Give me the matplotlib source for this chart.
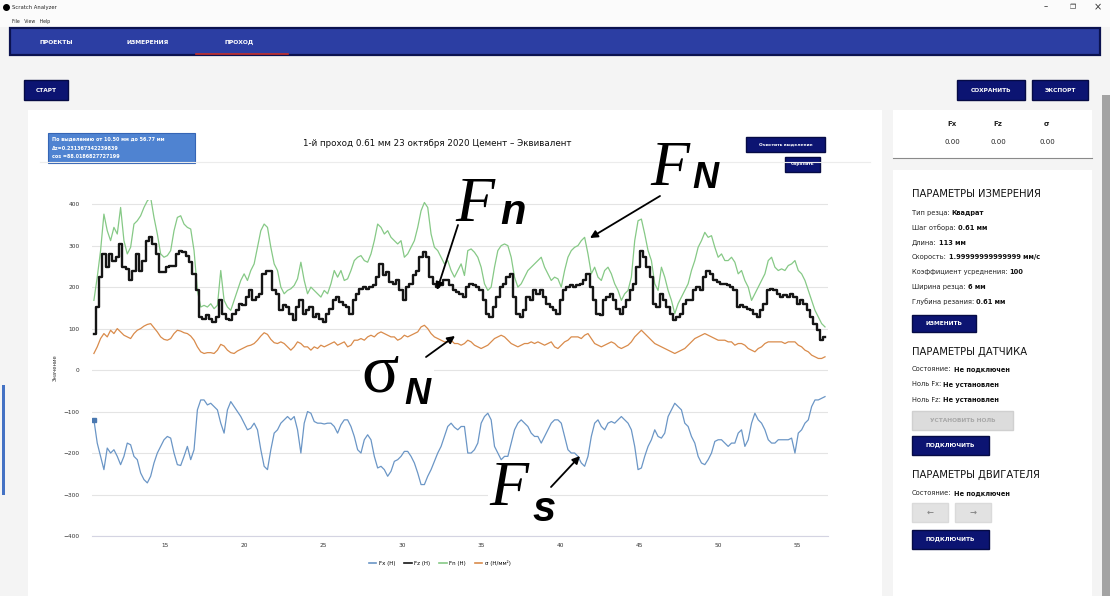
import numpy as np
import matplotlib.pyplot as plt
from matplotlib.patches import Rectangle

# --- values (Н, Н/мм²) ---
fn = [168, 224, 288, 376, 336, 312, 344, 328, 392, 312, 280, 296, 352, 360, 372, 392, 408, 416, 368, 328,
      280, 272, 276, 288, 336, 368, 372, 352, 344, 340, 288, 192, 152, 156, 152, 160, 148, 156, 240, 168,
      152, 144, 168, 192, 216, 232, 216, 240, 256, 296, 336, 352, 344, 296, 256, 240,
      200, 184, 192, 196, 204, 220, 260, 216, 184, 200, 192, 184, 176, 192, 184, 208, 240, 224, 240, 216,
      220, 240, 264, 272, 276, 264, 260, 280, 312, 352, 344, 328, 336, 320, 312, 304, 312, 272, 280, 296,
      312, 344, 384, 404, 392, 328, 296, 288, 272, 256, 264, 240, 224, 240, 256, 228,
      288, 292, 284, 272, 248, 208, 192, 200, 248, 288, 300, 304, 300, 272, 224, 200, 208, 224, 240, 248,
      256, 264, 272, 248, 232, 216, 224, 220, 200, 240, 272, 288, 296, 300, 312, 320, 280, 232, 248, 224,
      216, 240, 248, 232, 208, 192, 168, 184, 192, 224, 312, 360, 364, 328, 288, 264,
      208, 192, 248, 224, 192, 168, 136, 160, 176, 192, 208, 240, 264, 296, 312, 332, 320, 324, 296, 272,
      280, 264, 264, 272, 260, 232, 240, 216, 200, 168, 184, 200, 216, 232, 264, 272, 248, 240, 244, 240,
      252, 256, 264, 240, 232, 216, 192, 168, 144, 128, 112, 104]

fz = [88, 152, 224, 280, 248, 280, 264, 272, 304, 248, 244, 216, 240, 280, 240, 264, 312, 320, 304, 280,
      236, 236, 248, 252, 252, 280, 288, 284, 276, 260, 232, 192, 128, 124, 132, 124, 116, 128, 168, 136,
      124, 120, 136, 144, 160, 156, 176, 192, 168, 176, 184, 232, 240, 240, 192, 184,
      144, 156, 152, 136, 120, 152, 168, 136, 144, 152, 128, 136, 124, 116, 136, 148, 168, 176, 164, 156,
      152, 136, 168, 184, 196, 200, 196, 200, 204, 224, 256, 228, 236, 212, 208, 216, 192, 168, 200, 208,
      228, 240, 272, 284, 272, 224, 208, 200, 204, 216, 216, 204, 192, 188, 184, 176,
      200, 208, 204, 200, 192, 168, 136, 128, 152, 176, 200, 208, 224, 232, 176, 136, 128, 144, 176, 168,
      192, 184, 192, 176, 160, 152, 144, 136, 168, 192, 200, 204, 200, 204, 208, 216, 232, 200, 168, 136,
      132, 168, 176, 184, 168, 148, 136, 152, 168, 192, 208, 248, 288, 272, 248, 224,
      160, 152, 184, 168, 152, 136, 120, 128, 136, 160, 168, 168, 192, 200, 192, 224, 240, 232, 216, 212,
      208, 208, 204, 200, 192, 152, 156, 152, 148, 144, 136, 128, 144, 160, 192, 196, 192, 184, 176, 180,
      176, 184, 176, 160, 168, 160, 144, 128, 112, 96, 72, 80]

sigma = [40, 56, 76, 88, 80, 96, 88, 100, 92, 84, 80, 76, 88, 96, 100, 106, 110, 112, 102, 92,
         80, 74, 72, 76, 88, 96, 94, 90, 88, 82, 72, 56, 44, 40, 42, 42, 40, 48, 62, 58,
         48, 42, 40, 46, 50, 54, 58, 60, 64, 72, 82, 90, 86, 74, 66, 64,
         68, 64, 56, 48, 56, 68, 64, 56, 56, 48, 56, 52, 60, 56, 60, 64, 68, 60, 64, 68,
         56, 60, 72, 72, 76, 72, 80, 84, 80, 88, 92, 88, 84, 80, 80, 72, 76, 84, 80, 84,
         88, 92, 104, 108, 100, 88, 80, 76, 72, 68, 68, 72, 64, 64, 60, 64,
         72, 68, 60, 56, 52, 56, 60, 68, 76, 80, 84, 80, 72, 64, 60, 56, 60, 64, 64, 68,
         64, 68, 64, 60, 64, 68, 56, 52, 60, 68, 72, 80, 80, 80, 76, 84, 88, 76, 64, 60,
         56, 60, 64, 68, 64, 56, 52, 56, 60, 68, 80, 88, 96, 88, 80, 72,
         64, 60, 56, 52, 48, 44, 40, 44, 48, 52, 60, 68, 76, 80, 84, 88, 84, 80, 76, 72,
         72, 72, 68, 68, 60, 64, 64, 60, 52, 48, 44, 52, 56, 64, 68, 68, 68, 68, 68, 64,
         68, 68, 68, 60, 56, 48, 44, 36, 32, 28, 28, 32]

fx = [-120, -176, -208, -240, -188, -200, -192, -208, -228, -208, -176, -180, -208, -216, -248, -264, -272, -256, -224, -200,
      -184, -168, -160, -164, -200, -228, -230, -208, -184, -216, -192, -96, -72, -72, -84, -80, -88, -96, -128, -152,
      -96, -76, -88, -100, -112, -128, -144, -140, -128, -144, -192, -232, -240, -192, -152, -144,
      -128, -120, -112, -120, -112, -144, -200, -128, -100, -104, -124, -128, -128, -130, -128, -128, -136, -152, -132, -120,
      -120, -136, -160, -192, -200, -168, -156, -168, -208, -236, -232, -240, -256, -244, -220, -216, -208, -196, -196, -208,
      -224, -248, -276, -276, -256, -240, -220, -200, -184, -160, -136, -128, -138, -144, -136, -136,
      -200, -200, -192, -176, -128, -112, -104, -120, -184, -200, -216, -208, -208, -176, -144, -128, -120, -128, -136, -152,
      -160, -160, -176, -160, -144, -128, -120, -120, -128, -160, -192, -200, -200, -208, -224, -232, -208, -160, -128, -120,
      -136, -144, -128, -124, -128, -120, -112, -120, -128, -144, -184, -240, -236, -208, -184, -168,
      -144, -160, -164, -152, -112, -96, -80, -88, -96, -128, -136, -160, -176, -208, -224, -228, -216, -200, -172, -168,
      -168, -176, -184, -176, -176, -152, -144, -184, -168, -128, -104, -120, -128, -144, -168, -176, -176, -168, -168, -168,
      -168, -164, -200, -152, -144, -128, -120, -88, -72, -72, -68, -64]

x_start, x_end = 10.50, 56.77
x_mm = np.linspace(x_start, x_end, len(fx))

series_labels = ['Fx (Н)', 'Fz (Н)', 'Fn (Н)', 'σ (Н/мм²)']
y_ticks = [-400, -300, -200, -100, 0, 100, 200, 300, 400]
x_ticks = [15, 20, 25, 30, 35, 40, 45, 50, 55]

W, H = 1110, 596
NAVY = '#0c1472'

fig = plt.figure(figsize=(W / 100, H / 100), dpi=100)
fig.patch.set_facecolor('#f4f4f4')

# pixel-based layer for the window chrome
ui = fig.add_axes([0, 0, 1, 1], zorder=0)
ui.set_xlim(0, W)
ui.set_ylim(H, 0)
ui.axis('off')


def box(x, y, w, h, fc, ec='none', lw=0.0):
    ui.add_patch(Rectangle((x, y), w, h, facecolor=fc, edgecolor=ec, linewidth=lw))


def button(x, y, w, h, label, fc=NAVY, tc='white', fs=4.2, ec='#060b45'):
    box(x, y, w, h, fc, ec=ec, lw=1.0)
    ui.text(x + w / 2, y + h / 2, label, color=tc, fontsize=fs, fontweight='bold',
            ha='center', va='center')


def label_value(x, y, label, value, fs=5.0):
    t = ui.text(x, y, label, fontsize=fs, va='center', color='#222222')
    bb = t.get_window_extent(renderer=fig.canvas.get_renderer())
    ui.text(x + bb.width + 2, y, value, fontsize=fs, va='center', color='#111111',
            fontweight='bold')


# title bar and menu
box(0, 0, W, 27, '#fbfbfb')
ui.plot([6], [7], 'o', color='black', ms=4)
ui.text(12, 7, 'Scratch Analyzer', fontsize=3.8, va='center', color='#222222')
ui.text(12, 21, 'File   View   Help', fontsize=3.3, va='center', color='#222222')
ui.text(1046, 7, '–', fontsize=6, ha='center', va='center', color='#333333')
ui.text(1073, 7, '❐', fontsize=5, ha='center', va='center', color='#333333')
ui.text(1098, 7, '×', fontsize=7, ha='center', va='center', color='#333333')

# navigation bar
box(10, 28, 1090, 27, '#2c3ea3', ec='#0b1250', lw=1.6)
for tx, name in [(56, 'ПРОЕКТЫ'), (148, 'ИЗМЕРЕНИЯ'), (239, 'ПРОХОД')]:
    ui.text(tx, 42, name, fontsize=4.3, color='white', fontweight='bold', ha='center', va='center')
ui.plot([196, 288], [54, 54], color='#c8302a', lw=1.2)

# scrollbar and left marker
box(1102, 95, 8, 501, '#a3a3a3')
box(2, 385, 3, 110, '#4472c4')

# top buttons
button(24, 80, 44, 20, 'СТАРТ')
button(957, 80, 68, 20, 'СОХРАНИТЬ')
button(1032, 80, 56, 20, 'ЭКСПОРТ')

# chart card
box(28, 110, 854, 490, 'white')
box(48, 133, 147, 30, '#4f83d1', ec='#3565b5', lw=0.8)
info = ['По выделению от 10.50 мм до 56.77 мм', 'Δz=0.231367342239839', 'cos =88.0186827727199']
for i, line in enumerate(info):
    ui.text(52, 139 + i * 9, line, fontsize=3.5, color='white', fontweight='bold', va='center')
ui.text(437, 143, '1-й проход 0.61 мм 23 октября 2020 Цемент – Эквивалент', fontsize=6.3,
        ha='center', va='center', color='#111111')
ui.plot([40, 870], [162, 162], color='#ececec', lw=0.8)
button(746, 137, 79, 15, 'Очистить выделение', fs=3.2)
button(785, 157, 35, 15, 'Сбросить', fs=3.2)

# right panel: readouts
box(893, 110, 199, 48, 'white')
for cx, name in [(952, 'Fx'), (998, 'Fz'), (1047, 'σ')]:
    ui.text(cx, 124, name, fontsize=5, ha='center', va='center', fontweight='bold', color='#222222')
    ui.text(cx, 142, '0.00', fontsize=5, ha='center', va='center', color='#222222')
ui.plot([893, 1092], [158, 158], color='#8a8a8a', lw=0.8)

# right panel: parameters
box(893, 170, 199, 430, 'white')
ui.text(912, 194, 'ПАРАМЕТРЫ ИЗМЕРЕНИЯ', fontsize=7.2, va='center', color='#111111')
params = [('Тип резца:', 'Квадрат'), ('Шаг отбора:', '0.61 мм'), ('Длина:', '113 мм'),
          ('Скорость:', '1.99999999999999 мм/с'), ('Коэффициент усреднения:', '100'),
          ('Ширина резца:', '6 мм'), ('Глубина резания:', '0.61 мм')]
for i, (lab, val) in enumerate(params):
    label_value(912, 213 + i * 14.8, lab, val, fs=4.8)
button(912, 315, 64, 17, 'ИЗМЕНИТЬ')

ui.text(912, 352, 'ПАРАМЕТРЫ ДАТЧИКА', fontsize=7.2, va='center', color='#111111')
sensor = [('Состояние:', 'Не подключен'), ('Ноль Fx:', 'Не установлен'), ('Ноль Fz:', 'Не установлен')]
for i, (lab, val) in enumerate(sensor):
    label_value(912, 369 + i * 15.5, lab, val, fs=4.8)
button(912, 411, 101, 19, 'УСТАНОВИТЬ НОЛЬ', fc='#dcdcdc', tc='#a8a8a8', ec='#d0d0d0')
button(912, 436, 77, 19, 'ПОДКЛЮЧИТЬ')

ui.text(912, 475, 'ПАРАМЕТРЫ ДВИГАТЕЛЯ', fontsize=7.2, va='center', color='#111111')
label_value(912, 493, 'Состояние:', 'Не подключен', fs=4.8)
button(912, 503, 36, 19, '←', fc='#e2e2e2', tc='#888888', ec='#dadada', fs=6)
button(955, 503, 36, 19, '→', fc='#e2e2e2', tc='#888888', ec='#dadada', fs=6)
button(912, 530, 77, 19, 'ПОДКЛЮЧИТЬ')

# --- the chart itself ---
ax = fig.add_axes([92 / W, 1 - 536 / H, (828 - 92) / W, (536 - 200) / H], zorder=1)
ax.set_facecolor('none')
ax.plot(x_mm, sigma, color='#d98b4b', lw=0.9)
ax.plot(x_mm, fx, color='#6b96c6', lw=0.9)
ax.plot(x_mm[:1], fx[:1], 's', color='#4a78b0', ms=2.5)
ax.plot(x_mm, fn, color='#86c986', lw=0.9)
ax.plot(x_mm, fz, color='#151515', lw=1.7, drawstyle='steps-mid')

ax.set_xlim(10.38, 56.96)
ax.set_ylim(-400, 410)
ax.set_yticks(y_ticks)
ax.set_xticks(x_ticks)
ax.grid(axis='y', color='#e4e4e4', lw=0.8)
for s in ['top', 'right', 'left']:
    ax.spines[s].set_visible(False)
ax.spines['bottom'].set_color('#d4d4e2')
ax.tick_params(length=0, labelsize=4.2, colors='#333333')
ax.tick_params(axis='y', pad=9)
ax.tick_params(axis='x', pad=5)
ax.set_ylabel('Значение', fontsize=3.8, color='#333333', labelpad=4)

handles = [plt.Line2D([], [], color=c, lw=1.2) for c in ['#6b96c6', '#151515', '#86c986', '#d98b4b']]
fig.legend(handles, series_labels, loc='center', bbox_to_anchor=(440 / W, 1 - 563 / H), ncol=4,
           frameon=False, fontsize=4.0, handlelength=1.3, columnspacing=1.6, handletextpad=0.5)

# --- hand-drawn style labels on top ---
ov = fig.add_axes([0, 0, 1, 1], zorder=5)
ov.set_xlim(0, W)
ov.set_ylim(H, 0)
ov.axis('off')
ov.patch.set_alpha(0)

serif = dict(family='Liberation Serif', style='italic', color='black')
sub = dict(family='Liberation Sans', style='italic', fontweight='bold', color='black')
arrow = dict(arrowstyle='-|>', color='black', lw=1.3, mutation_scale=11, shrinkA=0, shrinkB=0)

ov.add_patch(Rectangle((360, 345), 74, 62, facecolor='white', edgecolor='none'))
ov.add_patch(Rectangle((488, 462), 62, 62, facecolor='white', edgecolor='none'))

ov.text(455, 221, 'F', fontsize=46, va='baseline', **serif)
ov.text(500, 224, 'n', fontsize=30, va='baseline', **sub)
ov.annotate('', xy=(437, 290), xytext=(458, 225), arrowprops=arrow)

ov.text(650, 185, 'F', fontsize=46, va='baseline', **serif)
ov.text(692, 188, 'N', fontsize=26, va='baseline', **sub)
ov.annotate('', xy=(590, 238), xytext=(660, 196), arrowprops=arrow)

ov.text(361, 391, 'σ', fontsize=50, va='baseline', family='Liberation Serif', color='black')
ov.text(404, 404, 'N', fontsize=26, va='baseline', **sub)
ov.annotate('', xy=(455, 336), xytext=(426, 357), arrowprops=arrow)

ov.text(489, 505, 'F', fontsize=46, va='baseline', **serif)
ov.text(533, 521, 's', fontsize=30, va='baseline', **sub)
ov.annotate('', xy=(580, 456), xytext=(551, 487), arrowprops=arrow)

fig.savefig('out.png', dpi=100, facecolor=fig.get_facecolor())
